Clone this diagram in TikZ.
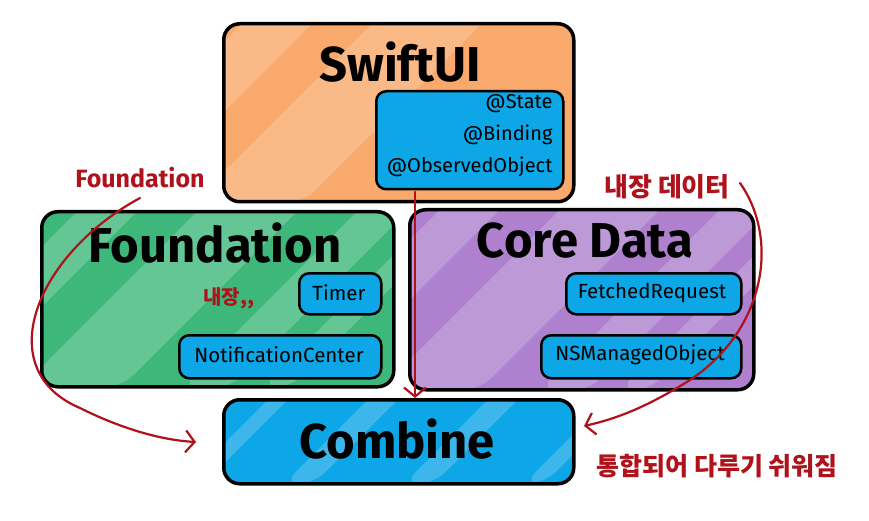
\documentclass[tikz,border=0pt]{standalone}
\usepackage{fontspec}
\setmainfont{Fira Sans}
\newfontfamily\kr{Noto Sans CJK KR}
\usetikzlibrary{arrows.meta,calc}
\definecolor{orangeF}{HTML}{F9A96B}
\definecolor{greenF}{HTML}{3DB87A}
\definecolor{purpleF}{HTML}{AE80CD}
\definecolor{blueF}{HTML}{0DA6E6}
\definecolor{redI}{HTML}{B0121B}
\begin{document}
\begin{tikzpicture}[x=1pt,y=-1pt,
  stripes/.style={path picture={
    \foreach \o/\w in {#1}{\fill[white,opacity=.2]
      ($(path picture bounding box.south west)+(\o,0)$) -- ++(\w,0) -- ++(400,-400) -- ++(-\w,0) -- cycle;}}},
  box/.style={draw=black,line width=3.5pt,rounded corners=16pt,inner sep=0pt,anchor=north west},
  sub/.style={draw=black,line width=2.5pt,rounded corners=10pt,inner sep=0pt,anchor=north west,fill=blueF},
  title/.style={font=\fontsize{49}{52}\selectfont\bfseries,text=black},
  item/.style={font=\fontsize{20.5}{24}\selectfont,text=black},
  ink/.style={draw=redI,line width=2.2pt,line cap=round},
  inktext/.style={text=redI,font=\kr\fontsize{25}{28}\selectfont\bfseries},
  tip/.style={-{Straight Barb[length=9pt,width=22pt,line width=2.2pt]}}
]
\useasboundingbox (0,0) rectangle (869,521);

% SwiftUI
\node[box,fill=orangeF,minimum width=350pt,minimum height=178pt,stripes={-160/70,-30/110}] (swift) at (222,22) {};
\node[title] (swiftT) at (400,62) {SwiftUI};
\node[sub,minimum width=187pt,minimum height=98pt] (swiftS) at (375,90) {};
\node[item,anchor=north east,align=right,font=\fontsize{20}{32}\selectfont] (swiftL) at (556,91) {@State\\@Binding\\@ObservedObject};

% Foundation
\node[box,fill=greenF,minimum width=352pt,minimum height=175pt,stripes={-140/60,-20/100,140/50,220/30}] (found) at (40,210) {};
\node[title] (foundT) at (215,243) {Foundation};
\node[sub,minimum width=82pt,minimum height=41pt] (timer) at (298,272) {};
\node[item] (timerL) at (339,293) {Timer};
\node[sub,minimum width=202pt,minimum height=43pt] (notif) at (178,334) {};
\node[item] (notifL) at (279,355) {NotificationCenter};

% Core Data
\node[box,fill=purpleF,minimum width=344pt,minimum height=180pt,stripes={-150/60,-30/100,130/50,210/30}] (core) at (408,208) {};
\node[title] (coreT) at (585,241) {Core Data};
\node[sub,minimum width=175pt,minimum height=41pt] (fetch) at (565,272) {};
\node[item] (fetchL) at (652,293) {FetchedRequest};
\node[sub,minimum width=200pt,minimum height=43pt] (nsm) at (540,334) {};
\node[item] (nsmL) at (640,355) {NSManagedObject};

% Combine
\node[box,fill=blueF,minimum width=350pt,minimum height=84pt,stripes={-40/20,60/30,180/30,300/20}] (comb) at (222,398) {};
\node[title] (combT) at (397,439) {Combine};

% annotations
\node[inktext,font=\fontsize{25}{28}\selectfont\bfseries] (annF) at (140,178) {Foundation};
\node[inktext,font=\kr\fontsize{26}{28}\selectfont\bfseries] (annD) at (667,187) {내장 데이터};
\node[inktext,font=\kr\fontsize{20}{22}\selectfont\bfseries] (annN) at (229,298) {내장,,};
\node[inktext] (annC) at (717,466) {통합되어 다루기 쉬워짐};

\coordinate (lstart) at (140,198);
\coordinate (lend) at (196,442);
\draw[ink,tip] (lstart) .. controls (35,255) and (-10,370) .. (80,408) .. controls (120,428) and (160,440) .. (lend);

\coordinate (vtop) at (415,192);
\draw[ink,tip] (vtop) -- (vtop |- comb.north);

\coordinate (rstart) at (740,183);
\coordinate (rend) at (584,426);
\draw[ink,tip] (rstart) .. controls (780,240) and (765,330) .. (690,380) .. controls (650,405) and (620,418) .. (rend);
\end{tikzpicture}
\end{document}
